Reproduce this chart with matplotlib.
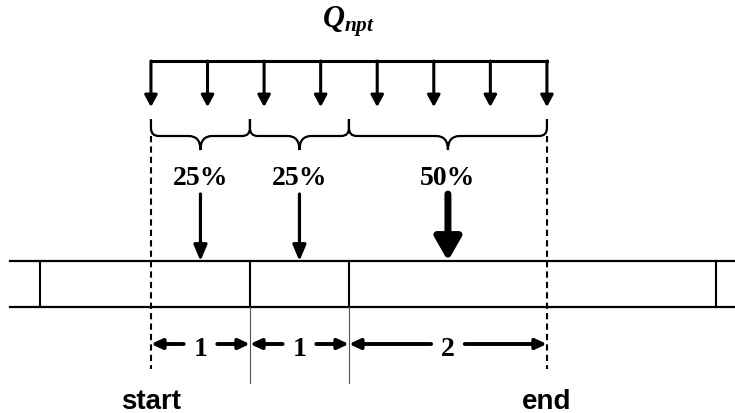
import matplotlib
matplotlib.use('Agg')
import matplotlib.pyplot as plt
from matplotlib.path import Path
from matplotlib.patches import PathPatch
import numpy as np

# данные схемы
seg_lengths = [1, 1, 2]          # длины участков
shares = [25, 25, 50]            # доли нагрузки, %
dim_labels = ['1', '1', '2']
n_load_arrows = 8
load_label = r'$Q_{npt}$'
end_labels = ['start', 'end']

plt.rcParams['mathtext.fontset'] = 'custom'
plt.rcParams['mathtext.it'] = 'Liberation Serif:italic:bold'
plt.rcParams['mathtext.rm'] = 'Liberation Serif:bold'

edges = np.concatenate([[0], np.cumsum(seg_lengths)])
mids = (edges[:-1] + edges[1:]) / 2
total = edges[-1]

fig = plt.figure(figsize=(7.35, 4.14), dpi=100)
ax = fig.add_axes([0, 0, 1, 1])
ax.set_xlim(-1.525, 5.9)
ax.set_ylim(414, 0)
ax.axis('off')


def arrow(x0, y0, x1, y1, lw, hl, hw):
    ax.annotate('', xy=(x1, y1), xytext=(x0, y0),
                arrowprops=dict(arrowstyle=f'-|>,head_length={hl},head_width={hw}',
                                lw=lw, color='black', shrinkA=0, shrinkB=0,
                                mutation_scale=10))


def brace(x0, x1, ytop=120, ymid=137, ytip=151, rx=0.08, rm=0.12):
    xm = (x0 + x1) / 2
    verts = [(x0, ytop), (x0, ymid - 8), (x0, ymid), (x0 + rx, ymid),
             (xm - rm, ymid), (xm, ymid), (xm, ytip),
             (xm, ymid), (xm + rm, ymid),
             (x1 - rx, ymid), (x1, ymid), (x1, ymid - 8), (x1, ytop)]
    codes = [Path.MOVETO, Path.LINETO, Path.CURVE3, Path.CURVE3,
             Path.LINETO, Path.CURVE3, Path.CURVE3,
             Path.CURVE3, Path.CURVE3,
             Path.LINETO, Path.CURVE3, Path.CURVE3, Path.LINETO]
    ax.add_patch(PathPatch(Path(verts, codes), fill=False, lw=1.6, color='black'))


# распределённая нагрузка
ax.text(total / 2, 22, load_label, ha='center', va='center', fontsize=22)
ax.plot([0, total], [62, 62], color='black', lw=2.2, solid_capstyle='projecting')
for x in np.linspace(0, total, n_load_arrows):
    arrow(x, 62, x, 108, 2.2, 0.7, 0.38)

# фигурные скобки и доли
for a, b in zip(edges[:-1], edges[1:]):
    brace(a, b)
for m, s in zip(mids, shares):
    ax.text(m, 185, f'{s}%', ha='center', va='baseline', fontsize=20,
            family='Liberation Serif', weight='bold')
    if s >= 50:
        arrow(m, 195, m, 262, 5, 1.4, 0.8)
    else:
        arrow(m, 195, m, 262, 2.3, 0.95, 0.4)

# балка
ax.plot([-1.42, 5.9], [262, 262], color='black', lw=1.6)
ax.plot([-1.42, 5.9], [308, 308], color='black', lw=1.6)
for x in [-1.12, 5.71]:
    ax.plot([x, x], [262, 308], color='black', lw=1.5)
for x in edges[1:-1]:
    ax.plot([x, x], [262, 308], color='black', lw=1.5)
    ax.plot([x, x], [308, 384], color='#555555', lw=0.8)

# пунктир на границах
for x in [0, total]:
    ax.plot([x, x], [137, 370], color='black', lw=1.5, ls=(0, (3, 2)))

# размеры
for a, b, m, lab in zip(edges[:-1], edges[1:], mids, dim_labels):
    gap = 0.17
    arrow(m - gap, 345, a, 345, 2.8, 0.65, 0.3)
    arrow(m + gap, 345, b, 345, 2.8, 0.65, 0.3)
    ax.text(m, 356, lab, ha='center', va='baseline', fontsize=20,
            family='Liberation Serif', weight='bold')

for x, lab in zip([0, total], end_labels):
    ax.text(x, 409, lab, ha='center', va='baseline', fontsize=20,
            family='Liberation Sans', weight='bold')

fig.savefig('out.png', dpi=100)
